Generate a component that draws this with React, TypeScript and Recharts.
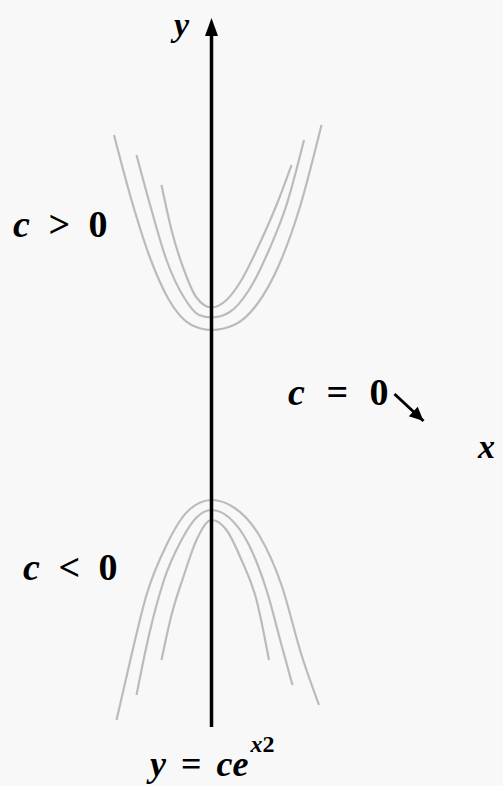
import React from "react";
import { LineChart, Line, XAxis, YAxis, ReferenceDot, ReferenceLine } from "recharts";

// solution curves y = c·e^(x²), c > 0 (opening up)
const upperInner = [
  { x: -1.0, y: 4.6 }, { x: -0.8, y: 3.7 }, { x: -0.55, y: 2.9 }, { x: -0.3, y: 2.35 },
  { x: 0, y: 2.15 }, { x: 0.3, y: 2.3 }, { x: 0.6, y: 2.7 }, { x: 0.95, y: 3.4 },
  { x: 1.3, y: 4.2 }, { x: 1.6, y: 5.0 },
];
const upperMid = [
  { x: -1.5, y: 5.2 }, { x: -1.2, y: 4.1 }, { x: -0.9, y: 3.1 }, { x: -0.55, y: 2.35 },
  { x: -0.25, y: 2.0 }, { x: 0, y: 1.95 }, { x: 0.35, y: 2.05 }, { x: 0.75, y: 2.5 },
  { x: 1.15, y: 3.3 }, { x: 1.5, y: 4.2 }, { x: 1.85, y: 5.5 },
];
const upperOuter = [
  { x: -1.95, y: 5.6 }, { x: -1.6, y: 4.3 }, { x: -1.25, y: 3.2 }, { x: -0.85, y: 2.3 },
  { x: -0.4, y: 1.8 }, { x: 0, y: 1.7 }, { x: 0.45, y: 1.8 }, { x: 0.9, y: 2.2 },
  { x: 1.35, y: 3.0 }, { x: 1.75, y: 4.1 }, { x: 2.2, y: 5.8 },
];

// c < 0 (opening down)
const lowerInner = [
  { x: -1.0, y: -4.9 }, { x: -0.8, y: -4.0 }, { x: -0.55, y: -3.2 }, { x: -0.3, y: -2.5 },
  { x: 0, y: -2.1 }, { x: 0.3, y: -2.3 }, { x: 0.6, y: -2.9 }, { x: 0.9, y: -3.7 },
  { x: 1.15, y: -4.9 },
];
const lowerMid = [
  { x: -1.5, y: -5.6 }, { x: -1.25, y: -4.4 }, { x: -0.95, y: -3.3 }, { x: -0.6, y: -2.5 },
  { x: -0.3, y: -2.05 }, { x: 0, y: -1.9 }, { x: 0.35, y: -2.05 }, { x: 0.75, y: -2.6 },
  { x: 1.1, y: -3.5 }, { x: 1.4, y: -4.6 }, { x: 1.62, y: -5.4 },
];
const lowerOuter = [
  { x: -1.9, y: -6.1 }, { x: -1.6, y: -4.8 }, { x: -1.3, y: -3.6 }, { x: -0.9, y: -2.6 },
  { x: -0.45, y: -1.9 }, { x: 0, y: -1.7 }, { x: 0.45, y: -1.85 }, { x: 0.95, y: -2.4 },
  { x: 1.4, y: -3.4 }, { x: 1.8, y: -4.8 }, { x: 2.15, y: -5.8 },
];

const curves = [upperInner, upperMid, upperOuter, lowerInner, lowerMid, lowerOuter];

const yAxisLine = [{ x: 0, y: -6.24 }, { x: 0, y: 7.6 }];
const yAxisTip = { x: 0, y: 7.94 };
const zeroPointer = [{ x: 3.66, y: 0.42 }, { x: 4.24, y: -0.12 }];

const serif = '"Liberation Serif", "DejaVu Serif", serif';

const UpArrow = ({ cx, cy }: any) => (
  <polygon points={`${cx},${cy} ${cx - 6.5},${cy + 18} ${cx + 6.5},${cy + 18}`} fill="#000" />
);

const SlantArrow = ({ cx, cy }: any) => {
  // head pointing down-right along the pointer shaft
  const a = Math.atan2(28, 30);
  const len = 14;
  const w = 6.5;
  const bx = cx - len * Math.cos(a);
  const by = cy - len * Math.sin(a);
  const px = -Math.sin(a) * w;
  const py = Math.cos(a) * w;
  return (
    <polygon
      points={`${cx},${cy} ${bx + px},${by + py} ${bx - px},${by - py}`}
      fill="#000"
    />
  );
};

const label = (left: number, top: number, size: number, gap = 0): React.CSSProperties => ({
  position: "absolute",
  left,
  top,
  fontFamily: serif,
  fontWeight: "bold",
  fontSize: size,
  lineHeight: 1,
  color: "#000",
  whiteSpace: "pre",
  wordSpacing: gap,
});

export default function App() {
  return (
    <div
      style={{
        position: "fixed",
        left: 0,
        top: 0,
        width: 503,
        height: 786,
        background: "#f8f8f8",
        overflow: "hidden",
      }}
    >
      <LineChart width={503} height={786} margin={{ top: 0, right: 0, bottom: 0, left: 0 }}>
        <XAxis type="number" dataKey="x" domain={[-4.23, 5.83]} hide allowDataOverflow />
        <YAxis type="number" dataKey="y" domain={[-7.42, 8.3]} hide allowDataOverflow />
        {curves.map((c, i) => (
          <Line
            key={i}
            data={c}
            dataKey="y"
            type="monotone"
            stroke="#bbbbbb"
            strokeWidth={2.2}
            dot={false}
            activeDot={false}
            isAnimationActive={false}
          />
        ))}
        <Line
          data={yAxisLine}
          dataKey="y"
          stroke="#000"
          strokeWidth={3.5}
          dot={false}
          activeDot={false}
          isAnimationActive={false}
        />
        <ReferenceDot x={yAxisTip.x} y={yAxisTip.y} shape={UpArrow} />
        <ReferenceLine
          segment={[zeroPointer[0], zeroPointer[1]]}
          stroke="#000"
          strokeWidth={3}
        />
        <ReferenceDot x={zeroPointer[1].x} y={zeroPointer[1].y} shape={SlantArrow} />
      </LineChart>

      <div style={label(174, 8, 34)}>
        <i>y</i>
      </div>
      <div style={label(13, 205, 38, 9)}>
        <i>c</i> &gt; 0
      </div>
      <div style={label(288, 373, 38, 12)}>
        <i>c</i> = 0
      </div>
      <div style={label(478, 430, 34)}>
        <i>x</i>
      </div>
      <div style={label(23, 548, 38, 9)}>
        <i>c</i> &lt; 0
      </div>
      <div style={label(150, 746, 36, 6)}>
        <i>y</i> = <i>ce</i>
        <span style={{ fontSize: 24, position: "relative", top: -24, marginLeft: 2 }}>
          <i>x</i>2
        </span>
      </div>
    </div>
  );
}
